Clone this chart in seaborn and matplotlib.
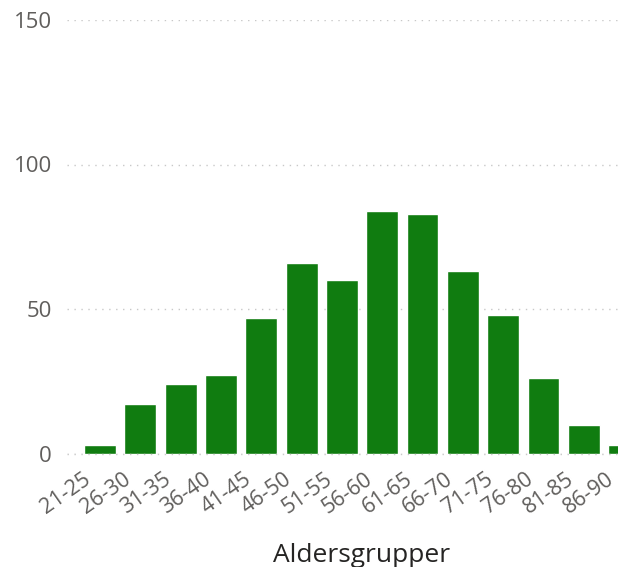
import matplotlib
matplotlib.use("Agg")
import matplotlib.pyplot as plt
import matplotlib.transforms as mtransforms
import seaborn as sns
import pandas as pd

# data
age_groups = ["21-25", "26-30", "31-35", "36-40", "41-45", "46-50", "51-55",
              "56-60", "61-65", "66-70", "71-75", "76-80", "81-85", "86-90"]
counts = [3, 17, 24, 27, 47, 66, 60, 84, 83, 63, 48, 26, 10, 3]
y_ticks = [0, 50, 100, 150]

df = pd.DataFrame({"group": age_groups, "count": counts})

sns.set_style("white")
plt.rcParams["font.family"] = ["Open Sans", "DejaVu Sans"]

fig = plt.figure(figsize=(6.18, 5.67), dpi=100)
ax = fig.add_axes([67 / 618, (567 - 453.5) / 567, 1 - 67 / 618, 433.5 / 567])

sns.barplot(data=df, x="group", y="count", color="#107C10", width=0.79,
            saturation=1, ax=ax, zorder=2)

ax.set_xlim(-0.82, 12.85)
ax.set_ylim(0, 150)
ax.set_yticks(y_ticks)
ax.yaxis.grid(True, linestyle=(0, (1, 4)), color="#c8c8c8", linewidth=1)
ax.set_axisbelow(True)
# dotted zero line drawn over the bar bottoms
ax.axhline(0, linestyle=(0, (1, 4)), color="#c8c8c8", linewidth=1, zorder=4,
           clip_on=False)
for s in ax.spines.values():
    s.set_visible(False)

ax.tick_params(axis="y", length=0, pad=11, labelsize=16, labelcolor="#605E5C")
ax.tick_params(axis="x", length=0, labelbottom=False)

# rotated category labels, drawn by hand so the cut-off last one still shows
offset = mtransforms.ScaledTranslation(-18 / 100, -15 / 100, fig.dpi_scale_trans)
trans = mtransforms.blended_transform_factory(ax.transData, ax.transAxes) + offset
for i, g in enumerate(age_groups):
    ax.text(i, 0, g, transform=trans, rotation=35, rotation_mode="anchor",
            ha="right", va="top", fontsize=15.5, color="#605E5C", clip_on=False)

ax.set_xlabel("")
ax.set_ylabel("")
fig.text(362 / 618, 5 / 567, "Aldersgrupper", ha="center", va="baseline",
         fontsize=19, color="#252423")

fig.savefig("out.png", dpi=100)
